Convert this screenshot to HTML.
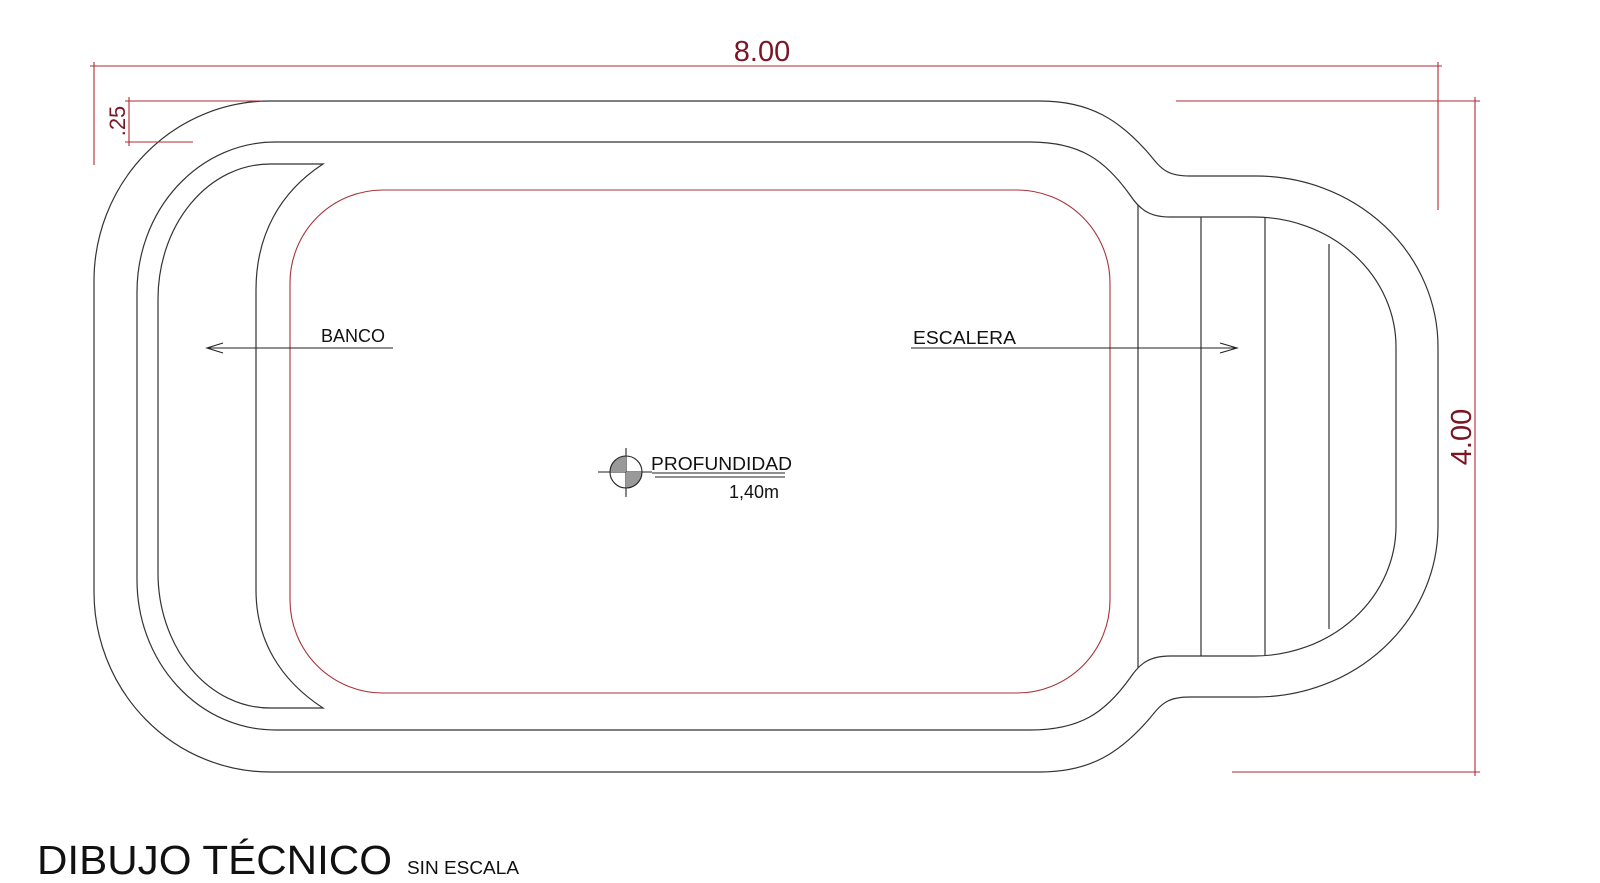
<!DOCTYPE html>
<html><head><meta charset="utf-8"><style>
html,body{margin:0;padding:0;background:#fff;}
svg{display:block;}
</style></head><body>
<svg width="1600" height="883" viewBox="0 0 1600 883" xmlns="http://www.w3.org/2000/svg" font-family="Liberation Sans, Arial, sans-serif">
<g fill="none" stroke="#333" stroke-width="1.2">
<path d="M270,101 L1040,101 C1090,101 1120,120 1150,155 C1162,170 1168,176 1190,176 L1256,176 A182,171 0 0 1 1438,347 L1438,527 A182,171 0 0 1 1256,697 L1190,697 C1168,697 1162,703 1150,718 C1120,753 1090,772 1040,772 L270,772 A176,180 0 0 1 94,592 L94,281 A176,180 0 0 1 270,101 Z"/>
<path d="M275,142 L1030,142 C1080,142 1105,160 1130,195 C1140,210 1150,217 1170,217 L1254,217 A142,130 0 0 1 1396,347 L1396,526 A142,130 0 0 1 1254,656 L1170,656 C1150,656 1140,663 1130,678 C1105,713 1080,730 1030,730 L275,730 A138,150 0 0 1 137,580 L137,292 A138,150 0 0 1 275,142 Z"/>
<path d="M323,164 L270,164 A112,135 0 0 0 158,299 L158,573 A112,135 0 0 0 270,708 L323,708 C280,680 256,640 256,590 L256,290 C256,235 280,192 323,164 Z"/>
<line x1="1138" y1="205" x2="1138" y2="668"/>
<line x1="1201" y1="217" x2="1201" y2="656"/>
<line x1="1265" y1="218" x2="1265" y2="655"/>
<line x1="1329" y1="244" x2="1329" y2="629"/>
</g>
<rect x="290" y="190" width="820" height="503" rx="93" ry="93" fill="none" stroke="#a8323c" stroke-width="1.1"/>
<g stroke="#b22a35" stroke-width="1.1" fill="none">
<line x1="90" y1="66" x2="1442" y2="66"/>
<line x1="94" y1="62" x2="94" y2="165"/>
<line x1="1438" y1="62" x2="1438" y2="210"/>
<line x1="125" y1="101" x2="262" y2="101"/>
<line x1="125" y1="142" x2="193" y2="142"/>
<line x1="129" y1="97" x2="129" y2="146"/>
<line x1="1176" y1="101" x2="1480" y2="101"/>
<line x1="1232" y1="772" x2="1480" y2="772"/>
<line x1="1475" y1="97" x2="1475" y2="776"/>
</g>
<text x="762" y="61" font-size="29" fill="#7a1624" text-anchor="middle">8.00</text>
<text transform="translate(1471,437) rotate(-90)" font-size="29" fill="#7a1624" text-anchor="middle">4.00</text>
<text transform="translate(125,121) rotate(-90)" font-size="22" fill="#7a1624" text-anchor="middle">.25</text>
<g stroke="#222" stroke-width="1.1" fill="none">
<line x1="207" y1="348" x2="393" y2="348"/>
<polyline points="223,343 207,348 223,353"/>
<line x1="911" y1="348" x2="1237" y2="348"/>
<polyline points="1220,343 1237,348 1220,353"/>
<line x1="652" y1="473" x2="785" y2="473"/>
<line x1="655" y1="477" x2="785" y2="477"/>
<line x1="598" y1="472" x2="652" y2="472"/>
<line x1="626" y1="448" x2="626" y2="497"/>
</g>
<path d="M626,472 L610,472 A16,16 0 0 1 626,456 Z" fill="#999"/>
<path d="M626,472 L642,472 A16,16 0 0 1 626,488 Z" fill="#999"/>
<circle cx="626" cy="472" r="16" fill="none" stroke="#222" stroke-width="1.1"/>
<text x="321" y="342" font-size="18" fill="#111">BANCO</text>
<text x="913" y="344" font-size="18" fill="#111" textLength="103" lengthAdjust="spacingAndGlyphs">ESCALERA</text>
<text x="651" y="470" font-size="18" fill="#111" textLength="141" lengthAdjust="spacingAndGlyphs">PROFUNDIDAD</text>
<text x="729" y="498" font-size="18" fill="#111">1,40m</text>
<text x="37" y="874" font-size="41" fill="#111" textLength="355" lengthAdjust="spacingAndGlyphs">DIBUJO TÉCNICO</text>
<text x="407" y="874" font-size="18" fill="#111" textLength="112" lengthAdjust="spacingAndGlyphs">SIN ESCALA</text>
</svg>
</body></html>
